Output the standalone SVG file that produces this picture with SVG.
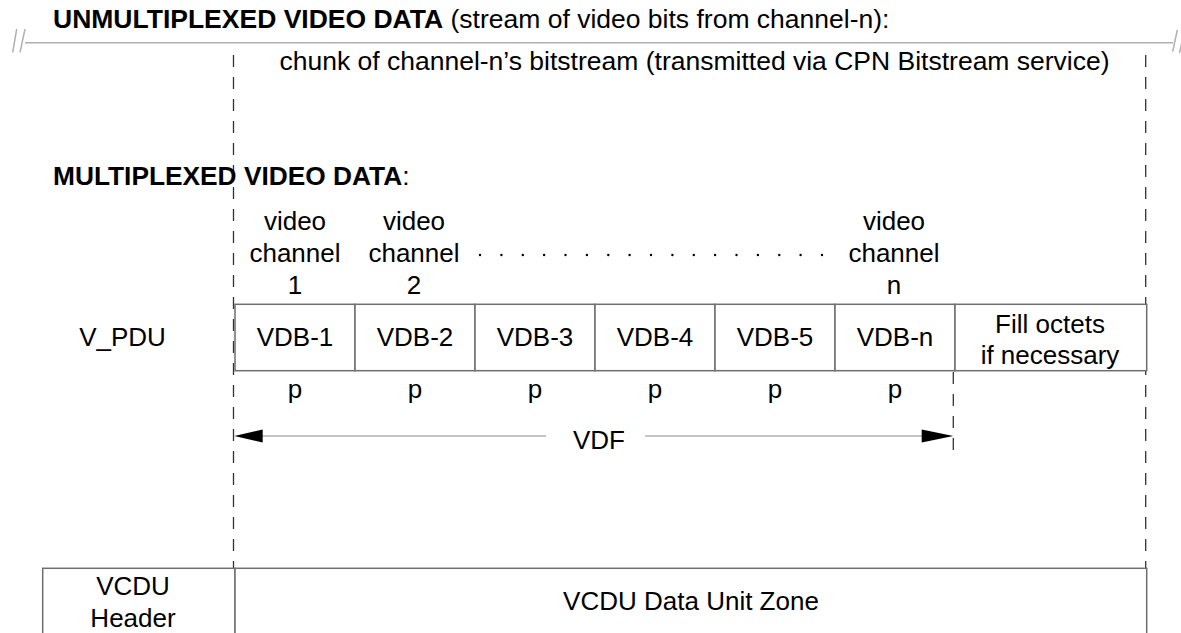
<svg xmlns="http://www.w3.org/2000/svg" width="1181" height="633" viewBox="0 0 1181 633">
<style>
text{font-family:"Liberation Sans",Arial,sans-serif;font-size:26px;fill:#000;}
.c{text-anchor:middle;}
.b{font-weight:bold;}
.box{fill:#fff;stroke:#6e6e6e;stroke-width:1.5;}
.dash{stroke:#333;stroke-width:1.3;stroke-dasharray:12 10;fill:none;}
.thin{stroke:#b0b0b0;stroke-width:1.5;fill:none;}
</style>
<rect width="1181" height="633" fill="#fff"/>
<g id="connectors">
<line class="thin" x1="25" y1="42.7" x2="1173" y2="42.7"/>
<line class="thin" x1="12.7" y1="52.3" x2="16.7" y2="29"/>
<line class="thin" x1="20" y1="52.3" x2="25" y2="29"/>
<line class="thin" x1="1172.7" y1="51.7" x2="1177.3" y2="30"/>
<line class="thin" x1="1179.5" y1="53" x2="1182" y2="42"/>
<line class="dash" x1="233.5" y1="55" x2="233.5" y2="568"/>
<line class="dash" x1="1145.7" y1="55" x2="1145.7" y2="568"/>
<line class="dash" x1="953.3" y1="372" x2="953.3" y2="456"/>
<line class="thin" x1="260" y1="436" x2="546" y2="436"/>
<line class="thin" x1="645" y1="436" x2="924" y2="436"/>
<polygon points="234.3,436 262.7,429.5 262.7,442.5" fill="#000"/>
<polygon points="953.3,436 921.7,429.5 921.7,442.5" fill="#000"/>
<g fill="#000">
<circle cx="480" cy="255" r="1.2"/><circle cx="501.4" cy="255" r="1.2"/><circle cx="522.8" cy="255" r="1.2"/><circle cx="544.1" cy="255" r="1.2"/><circle cx="565.5" cy="255" r="1.2"/><circle cx="586.9" cy="255" r="1.2"/><circle cx="608.3" cy="255" r="1.2"/><circle cx="629.6" cy="255" r="1.2"/><circle cx="651" cy="255" r="1.2"/><circle cx="672.4" cy="255" r="1.2"/><circle cx="693.8" cy="255" r="1.2"/><circle cx="715.1" cy="255" r="1.2"/><circle cx="736.5" cy="255" r="1.2"/><circle cx="757.9" cy="255" r="1.2"/><circle cx="779.3" cy="255" r="1.2"/><circle cx="800.6" cy="255" r="1.2"/><circle cx="822" cy="255" r="1.2"/>
</g>
</g>
<g id="title-unmux">
<text x="53" y="28" style="font-size:26.5px"><tspan class="b">UNMULTIPLEXED VIDEO DATA</tspan> (stream of video bits from channel-n):</text>
</g>
<g id="chunk">
<text class="c" x="694.5" y="70" style="font-size:26.5px">chunk of channel-n’s bitstream (transmitted via CPN Bitstream service)</text>
</g>
<g id="title-mux">
<text x="53" y="185" style="font-size:26.3px"><tspan class="b">MULTIPLEXED VIDEO DATA</tspan>:</text>
</g>
<g id="channel-labels">
<text class="c" x="295" y="230">video</text><text class="c" x="295" y="262">channel</text><text class="c" x="295" y="294">1</text>
<text class="c" x="414" y="230">video</text><text class="c" x="414" y="262">channel</text><text class="c" x="414" y="294">2</text>
<text class="c" x="894" y="230">video</text><text class="c" x="894" y="262">channel</text><text class="c" x="894" y="294">n</text>
</g>
<g id="vpdu-label"><text class="c" x="122.5" y="346">V_PDU</text></g>
<g id="vdb-1"><rect class="box" x="235" y="304.3" width="120" height="66.4"/><text class="c" x="295" y="346">VDB-1</text></g>
<g id="vdb-2"><rect class="box" x="355" y="304.3" width="120" height="66.4"/><text class="c" x="415" y="346">VDB-2</text></g>
<g id="vdb-3"><rect class="box" x="475" y="304.3" width="120" height="66.4"/><text class="c" x="535" y="346">VDB-3</text></g>
<g id="vdb-4"><rect class="box" x="595" y="304.3" width="120" height="66.4"/><text class="c" x="655" y="346">VDB-4</text></g>
<g id="vdb-5"><rect class="box" x="715" y="304.3" width="120" height="66.4"/><text class="c" x="775" y="346">VDB-5</text></g>
<g id="vdb-n"><rect class="box" x="835" y="304.3" width="120" height="66.4"/><text class="c" x="895" y="346">VDB-n</text></g>
<g id="fill"><rect class="box" x="955" y="304.3" width="191.7" height="66.4"/><text class="c" x="1050" y="333">Fill octets</text><text class="c" x="1050" y="364">if necessary</text></g>
<g id="p-labels">
<text class="c" x="295" y="398">p</text><text class="c" x="415" y="398">p</text><text class="c" x="535" y="398">p</text><text class="c" x="655" y="398">p</text><text class="c" x="775" y="398">p</text><text class="c" x="895" y="398">p</text>
</g>
<g id="vdf"><text class="c" x="599" y="449">VDF</text></g>
<g id="vcdu-header"><rect class="box" x="42.7" y="568.3" width="192.3" height="80"/><text class="c" x="133" y="595">VCDU</text><text class="c" x="133" y="627">Header</text></g>
<g id="vcdu-zone"><rect class="box" x="235" y="568.3" width="911.7" height="80"/><text class="c" x="691" y="610">VCDU Data Unit Zone</text></g>
</svg>
